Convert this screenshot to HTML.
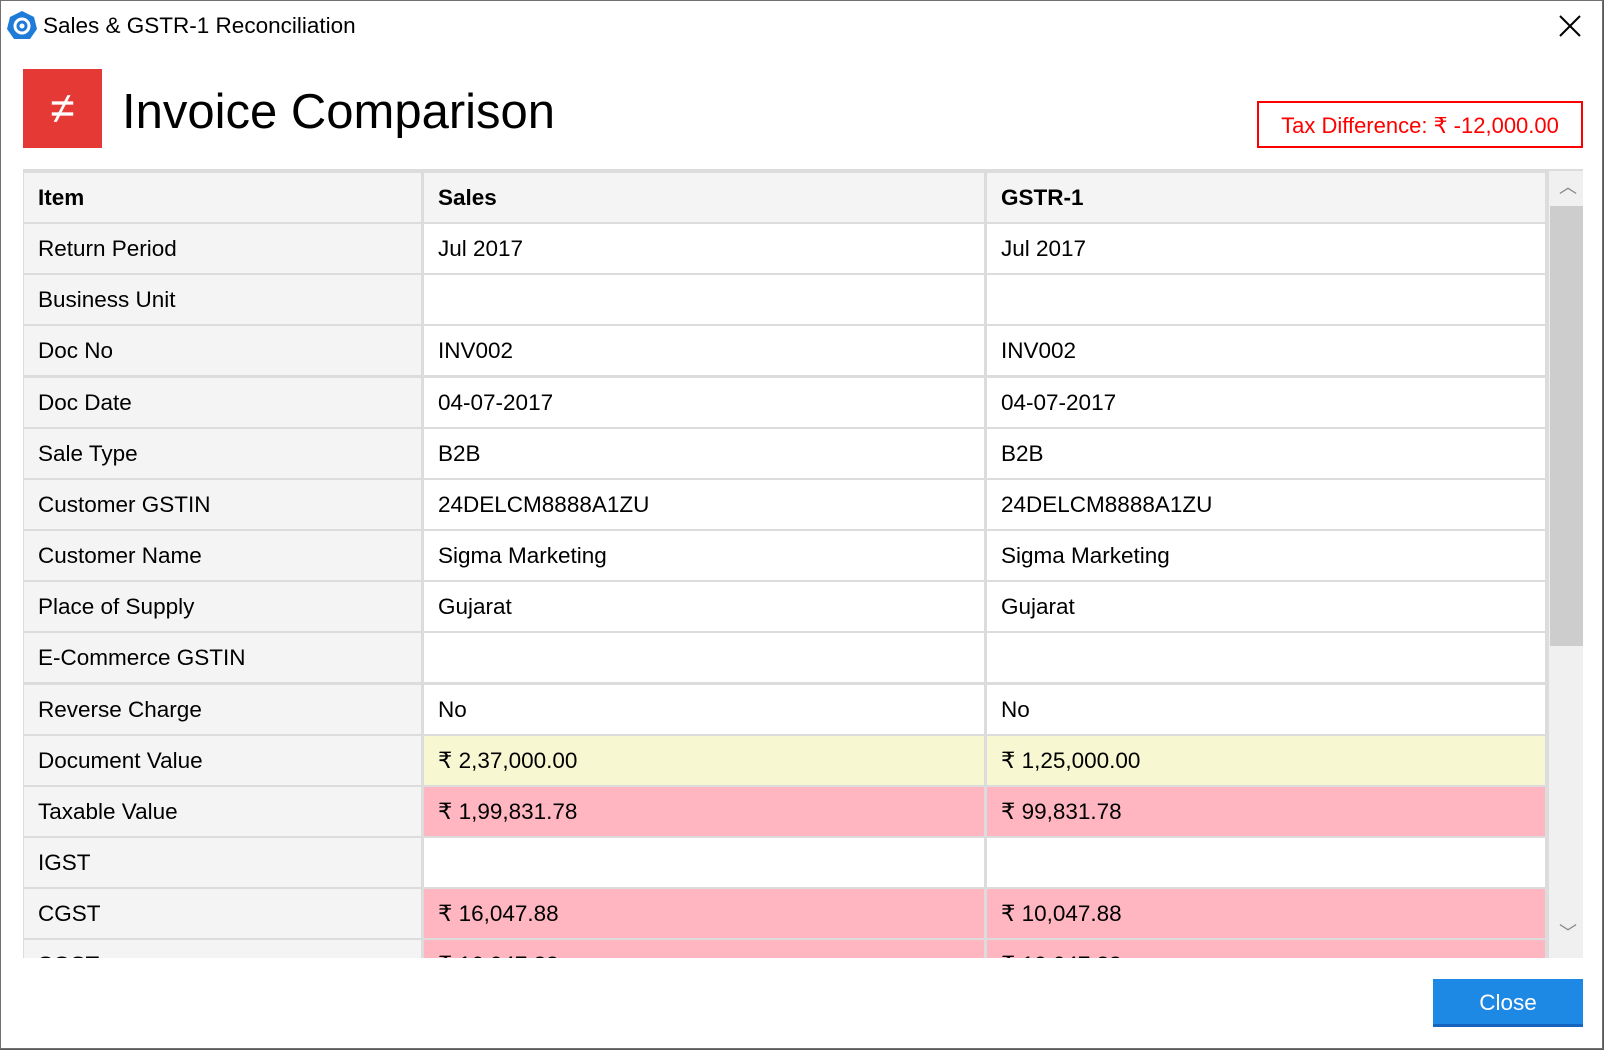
<!DOCTYPE html>
<html><head><meta charset="utf-8">
<style>
*{margin:0;padding:0;box-sizing:border-box}
body{width:1604px;height:1050px;background:#5a5a5a;position:relative;overflow:hidden;font-family:"Liberation Sans","DejaVu Sans",sans-serif;color:#000}
#win{position:absolute;left:0;top:0;width:1603px;height:1049px;background:#fff;border:1px solid #707070}
.abs{position:absolute}
.c{position:absolute;height:49px;line-height:49px;font-size:22.5px;padding-left:14px;white-space:nowrap;overflow:hidden}
.c1{left:1px;width:397px;background:#f4f4f4}
.c2{left:401px;width:560px;background:#fff}
.c3{left:964px;width:558px;background:#fff}
.h{font-weight:bold;background:#f4f4f4}
.y{background:#f7f7d2}
.p{background:#ffb6c1}
</style></head><body>
<div id="win">
 <svg class="abs" style="left:5px;top:9px" width="32" height="32" viewBox="0 0 32 32">
  <polygon points="16,1 28,7 31,19 24,29 8,29 1,19 4,7" fill="#1e7bd8"/>
  <circle cx="16" cy="16" r="7" fill="none" stroke="#fff" stroke-width="3"/>
  <circle cx="16" cy="16" r="2.5" fill="#fff"/>
 </svg>
 <div class="abs" style="left:42px;top:11px;font-size:22.5px;line-height:28px">Sales &amp; GSTR-1 Reconciliation</div>
 <svg class="abs" style="left:1558px;top:14px" width="22" height="22" viewBox="0 0 22 22">
  <path d="M1 1L21 21M21 1L1 21" stroke="#000" stroke-width="2"/>
 </svg>

 <div class="abs" style="left:22px;top:68px;width:79px;height:79px;background:#e53935;color:#fff;font-size:44px;line-height:79px;text-align:center">≠</div>
 <div class="abs" style="left:121px;top:81px;font-size:49px;line-height:60px">Invoice Comparison</div>

 <div class="abs" style="left:1256px;top:100px;width:326px;height:47px;border:2px solid #ff0000;color:#ff0000;font-size:22px;line-height:45px;text-align:center">Tax Difference: ₹ -12,000.00</div>

 <div class="abs" style="left:22px;top:168px;width:1560px;height:789px;background:#dcdcdc;overflow:hidden">
  <div class="abs" style="left:1526px;top:2px;width:34px;height:787px;background:#f0f0f0"></div>
  <div class="abs" style="left:1527px;top:37px;width:33px;height:440px;background:#cdcdcd"></div>
  <div class="abs" style="left:1536px;top:4px;color:#888;font-size:18px">︿</div>
  <div class="abs" style="left:1536px;top:750px;color:#888;font-size:18px">﹀</div>
  <div id="rows"></div>
 </div>

 <div class="abs" style="left:1432px;top:978px;width:150px;height:48px;background:#1e88e5;border-bottom:3px solid #1565c0;color:#fff;font-size:22.5px;line-height:48px;text-align:center">Close</div>
</div>
<script>
var d=[["Item","Sales","GSTR-1","h"],["Return Period","Jul 2017","Jul 2017"],["Business Unit","",""],["Doc No","INV002","INV002"],["Doc Date","04-07-2017","04-07-2017"],["Sale Type","B2B","B2B"],["Customer GSTIN","24DELCM8888A1ZU","24DELCM8888A1ZU"],["Customer Name","Sigma Marketing","Sigma Marketing"],["Place of Supply","Gujarat","Gujarat"],["E-Commerce GSTIN","",""],["Reverse Charge","No","No"],["Document Value","₹ 2,37,000.00","₹ 1,25,000.00","y"],["Taxable Value","₹ 1,99,831.78","₹ 99,831.78","p"],["IGST","",""],["CGST","₹ 16,047.88","₹ 10,047.88","p"],["SGST","₹ 16,047.88","₹ 10,047.88","p"]];
var h="";
d.forEach(function(r,i){var t=(4+51.15*i).toFixed(1);var k=r[3]||"";
h+='<div class="c c1 '+(k=="h"?"h":"")+'" style="top:'+t+'px">'+r[0]+'</div>';
h+='<div class="c c2 '+k+'" style="top:'+t+'px">'+r[1]+'</div>';
h+='<div class="c c3 '+k+'" style="top:'+t+'px">'+r[2]+'</div>';});
document.getElementById("rows").innerHTML=h;
</script>
</body></html>
